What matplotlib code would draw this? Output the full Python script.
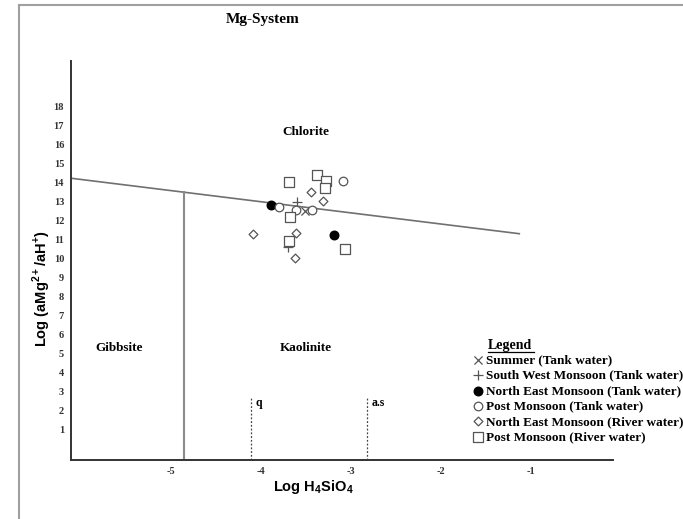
import matplotlib
matplotlib.use("Agg")
import matplotlib.pyplot as plt
from matplotlib.lines import Line2D

plt.rcParams['mathtext.fontset'] = 'custom'
plt.rcParams['mathtext.rm'] = 'Liberation Sans:bold'
plt.rcParams['mathtext.bf'] = 'Liberation Sans:bold'

# ---- data (log H4SiO4, log aMg2+/aH+) ----
summer_x = [-3.51]
summer_y = [12.54]
swm_x = [-3.60, -3.70]
swm_y = [13.02, 10.61]
nem_tank_x = [-3.89, -3.19]
nem_tank_y = [12.84, 11.26]
post_tank_x = [-3.09, -3.80, -3.61, -3.43]
post_tank_y = [14.09, 12.72, 12.58, 12.58]
nem_river_x = [-3.44, -3.31, -4.09, -3.61, -3.62]
nem_river_y = [13.51, 13.07, 11.32, 11.35, 10.04]
post_river_x = [-3.69, -3.38, -3.28, -3.29, -3.68, -3.69, -3.07]
post_river_y = [14.07, 14.42, 14.11, 13.75, 12.19, 10.96, 10.51]

# stability boundaries
chl_kao_x = [-6.11, -1.13]
chl_kao_y = [14.25, 11.33]
gib_kao_x = -4.86
gib_kao_top = 13.52
quartz_x = -4.11
amorph_x = -2.82
sat_top = 2.74

x_ticks = [-5, -4, -3, -2, -1]
y_ticks = list(range(1, 19))

labels = ["Summer (Tank water)", "South West Monsoon (Tank water)",
          "North East Monsoon (Tank water)", "Post Monsoon (Tank water)",
          "North East Monsoon (River water)", "Post Monsoon (River water)"]

W, H = 683, 519
fig = plt.figure(figsize=(W / 100, H / 100), dpi=100)
ax = fig.add_axes([71 / W, 1 - 460 / H, (613 - 71) / W, (460 - 61) / H])
ax.set_xlim(-6.11, -0.089)
ax.set_ylim(-0.58, 20.42)

lc = '#707070'
ax.plot(chl_kao_x, chl_kao_y, color=lc, lw=1.2)
ax.plot([gib_kao_x, gib_kao_x], [-0.58, gib_kao_top], color='#8a8a8a', lw=1.5)
ax.plot([quartz_x, quartz_x], [-0.58, sat_top], color='#444444', lw=0.9, ls=(0, (1.5, 1.5)))
ax.plot([amorph_x, amorph_x], [-0.58, sat_top], color='#444444', lw=0.9, ls=(0, (1.5, 1.5)))

serif = 'Liberation Serif'
ax.text(quartz_x + 0.05, sat_top, 'q', family=serif, weight='bold', fontsize=8.5, va='top', ha='left')
ax.text(amorph_x + 0.05, sat_top, 'a.s', family=serif, weight='bold', fontsize=8.5, va='top', ha='left')
ax.text(-3.5, 16.7, 'Chlorite', family=serif, weight='bold', fontsize=9.5, ha='center', va='center')
ax.text(-3.5, 5.3, 'Kaolinite', family=serif, weight='bold', fontsize=9.5, ha='center', va='center')
ax.text(-5.57, 5.3, 'Gibbsite', family=serif, weight='bold', fontsize=9.5, ha='center', va='center')

ec = '#555555'
h1 = ax.scatter(summer_x, summer_y, marker='x', s=34, c=ec, linewidths=0.9, zorder=3)
h2 = ax.scatter(swm_x, swm_y, marker='+', s=50, c=ec, linewidths=0.9, zorder=3)
h3 = ax.scatter(nem_tank_x, nem_tank_y, marker='o', s=38, c='black', edgecolors='black', zorder=3)
h4 = ax.scatter(post_tank_x, post_tank_y, marker='o', s=38, facecolors='white', edgecolors=ec, linewidths=0.9, zorder=3)
h5 = ax.scatter(nem_river_x, nem_river_y, marker='D', s=20, facecolors='white', edgecolors=ec, linewidths=0.9, zorder=3)
h6 = ax.scatter(post_river_x, post_river_y, marker='s', s=48, facecolors='white', edgecolors=ec, linewidths=0.9, zorder=3)

for s in ['top', 'right']:
    ax.spines[s].set_visible(False)
for s in ['left', 'bottom']:
    ax.spines[s].set_color('#333333')
    ax.spines[s].set_linewidth(1.4)

ax.set_xticks(x_ticks)
ax.set_xticklabels([str(v) for v in x_ticks])
ax.set_yticks(y_ticks)
ax.set_yticklabels([str(v) for v in y_ticks])
ax.tick_params(length=0, pad=5, labelsize=7.5, labelcolor='#333333')
for t in ax.get_xticklabels() + ax.get_yticklabels():
    t.set_family(serif)
    t.set_weight('bold')

fig.text(263 / W, 1 - 20 / H, 'Mg-System', family=serif, weight='bold', fontsize=11, ha='center', va='center')
fig.text(313 / W, 1 - 487 / H, r'Log H$_\mathbf{4}$SiO$_\mathbf{4}$', family='Liberation Sans', weight='bold',
         fontsize=10.5, ha='center', va='center')
fig.text(42 / W, 1 - 289 / H, r'Log (aMg$^{\mathbf{2+}}$/aH$^{\mathbf{+}}$)', family='Liberation Sans', weight='bold',
         fontsize=10.5, ha='center', va='center', rotation=90)

# legend
fig.text(488 / W, 1 - 345 / H, 'Legend', family=serif, weight='bold', fontsize=10, ha='left', va='center')
fig.add_artist(Line2D([488 / W, 534 / W], [1 - 352 / H, 1 - 352 / H], color='black', lw=0.9))
leg = fig.legend([h1, h2, h3, h4, h5, h6], labels, loc='upper left',
                 bbox_to_anchor=(473 / W, 1 - 354 / H), frameon=False,
                 prop={'family': serif, 'weight': 'bold', 'size': 9.5},
                 handlelength=0.7, handletextpad=0.3, labelspacing=0.24,
                 borderpad=0, borderaxespad=0, scatterpoints=1)

# outer frame (left and top)
fig.add_artist(Line2D([19 / W, 19 / W], [0, 1 - 5 / H], color='#a0a0a0', lw=1.5))
fig.add_artist(Line2D([19 / W, 1], [1 - 5 / H, 1 - 5 / H], color='#a0a0a0', lw=1.5))

fig.savefig('out.png', dpi=100)
